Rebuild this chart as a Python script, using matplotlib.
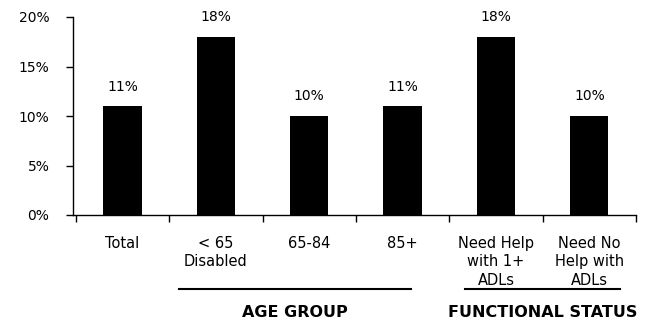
import numpy as np
import matplotlib.pyplot as plt

# Share of each group (percent)
categories = ["Total", "< 65\nDisabled", "65-84", "85+",
              "Need Help\nwith 1+\nADLs", "Need No\nHelp with\nADLs"]
values = [11, 18, 10, 11, 18, 10]
y_ticks = [0, 5, 10, 15, 20]
group_names = ["AGE GROUP", "FUNCTIONAL STATUS"]
group_spans = [(0.6, 3.09), (3.67, 5.33)]

plt.rcParams['font.family'] = ['DejaVu Sans']

fig = plt.figure(figsize=(6.45, 3.23), dpi=100)
ax = fig.add_axes([73 / 645, 108 / 323, 563 / 645, 198 / 323])

x = np.arange(len(categories))
ax.bar(x, values, width=0.41, color='black')

# value labels above each bar
for xi, v in zip(x, values):
    ax.annotate(f"{v}%", (xi, v), xytext=(0, 9), textcoords='offset points',
                ha='center', va='bottom', fontsize=10)

ax.set_xlim(-0.53, 5.5)
ax.set_ylim(0, 20)

ax.set_yticks(y_ticks)
ax.set_yticklabels([f"{t}%" for t in y_ticks])
ax.tick_params(axis='y', length=5, width=1, pad=12, labelsize=10)

# major ticks mark category boundaries, minor ticks carry the names
ax.set_xticks(np.arange(len(categories) + 1) - 0.5)
ax.set_xticklabels([])
ax.set_xticks(x, minor=True)
ax.set_xticklabels(categories, minor=True, fontsize=10.5, linespacing=1.3)
ax.tick_params(axis='x', which='major', length=5, width=1)
ax.tick_params(axis='x', which='minor', length=0, pad=15)

for s in ['top', 'right']:
    ax.spines[s].set_visible(False)
for s in ['left', 'bottom']:
    ax.spines[s].set_linewidth(1)

# group underlines and titles
trans = ax.get_xaxis_transform()
for name, (x0, x1) in zip(group_names, group_spans):
    ax.plot([x0, x1], [-0.374, -0.374], color='black', lw=1.5,
            transform=trans, clip_on=False)
    ax.text((x0 + x1) / 2, -0.49, name, transform=trans, ha='center',
            va='center', fontsize=11.5, fontweight='bold',
            family=['Liberation Sans Narrow', 'DejaVu Sans'])

fig.savefig('out.png', dpi=100)
